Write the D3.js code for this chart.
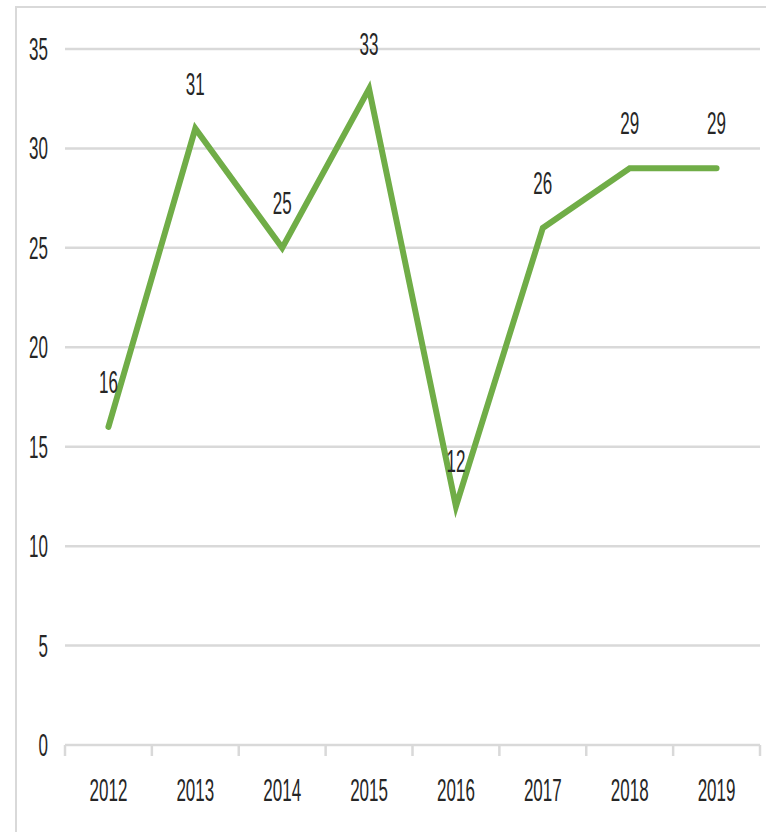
<!DOCTYPE html>
<html>
<head>
<meta charset="utf-8">
<script src="https://cdn.jsdelivr.net/npm/d3@7"></script>
<style>
  body { margin: 0; background: #fff; }
  text { font-family: "Liberation Sans", Arial, sans-serif; fill: #262626; }
</style>
</head>
<body>
<div id="chart"></div>
<script>
const years = ['2012', '2013', '2014', '2015', '2016', '2017', '2018', '2019'];
const values = [16, 31, 25, 33, 12, 26, 29, 29];
const yTicks = [0, 5, 10, 15, 20, 25, 30, 35];

const width = 766, height = 832;
const margin = { top: 49, right: 6, bottom: 87, left: 65 };

const svg = d3.select('#chart').append('svg')
    .attr('width', width)
    .attr('height', height);

// outer frame (cropped at right and bottom)
svg.append('path')
    .attr('d', `M16,${height + 5} L16,7 L${width + 5},7`)
    .attr('fill', 'none')
    .attr('stroke', '#d9d9d9')
    .attr('stroke-width', 2);

const xScale = d3.scaleBand()
    .domain(years)
    .range([margin.left, width - margin.right]);

const yScale = d3.scaleLinear()
    .domain([0, 35])
    .range([height - margin.bottom, margin.top]);

// tall condensed text, like the original
const stretch = 1.85;
function label(g, x, y, txt, anchor) {
    g.append('text')
        .attr('transform', `translate(${x},${y}) scale(1,${stretch})`)
        .attr('text-anchor', anchor)
        .attr('dy', '0.35em')
        .attr('font-size', 17)
        .text(txt);
}

// gridlines
svg.append('g')
    .selectAll('line')
    .data(yTicks.filter(d => d > 0))
    .enter()
    .append('line')
    .attr('x1', margin.left)
    .attr('x2', width - margin.right)
    .attr('y1', d => yScale(d))
    .attr('y2', d => yScale(d))
    .attr('stroke', '#d9d9d9')
    .attr('stroke-width', 2.5);

// y labels
const yLab = svg.append('g');
yTicks.forEach(t => label(yLab, 48, yScale(t), t, 'end'));

// x axis
const xAxis = svg.append('g');
xAxis.append('line')
    .attr('x1', margin.left)
    .attr('x2', width - margin.right)
    .attr('y1', yScale(0))
    .attr('y2', yScale(0))
    .attr('stroke', '#d9d9d9')
    .attr('stroke-width', 2.5);

const edges = years.map(d => xScale(d)).concat([xScale.range()[1]]);
xAxis.selectAll('.tick')
    .data(edges)
    .enter()
    .append('line')
    .attr('x1', d => d)
    .attr('x2', d => d)
    .attr('y1', yScale(0))
    .attr('y2', yScale(0) + 11)
    .attr('stroke', '#d9d9d9')
    .attr('stroke-width', 2.5);

years.forEach(y => label(xAxis, xScale(y) + xScale.bandwidth() / 2, 790, y, 'middle'));

// the line
const line = d3.line()
    .x((d, i) => xScale(years[i]) + xScale.bandwidth() / 2)
    .y(d => yScale(d));

svg.append('path')
    .datum(values)
    .attr('d', line)
    .attr('fill', 'none')
    .attr('stroke', '#70ad47')
    .attr('stroke-width', 6)
    .attr('stroke-linejoin', 'miter')
    .attr('stroke-linecap', 'round');

// data labels
const dLab = svg.append('g');
values.forEach((v, i) => label(dLab, xScale(years[i]) + xScale.bandwidth() / 2, yScale(v) - 45, v, 'middle'));
</script>
</body>
</html>
